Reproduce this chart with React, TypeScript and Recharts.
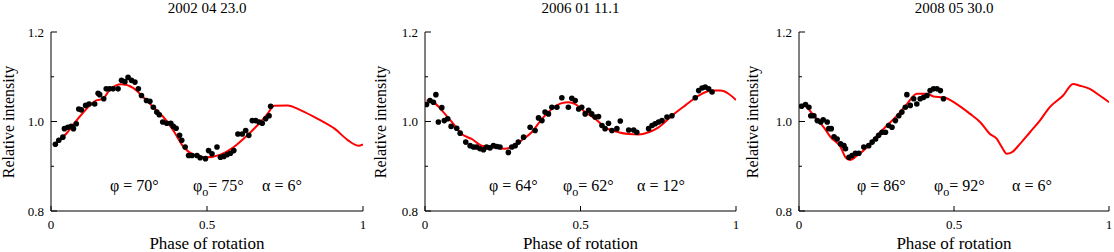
import { ComposedChart, Line, Scatter, XAxis, YAxis } from "recharts"

const FONT = "'Liberation Serif', 'Times New Roman', Times, 'DejaVu Serif', serif"

const xTicks = [0, 0.5, 1]
const yTicks = [0.8, 0.9, 1.0, 1.1, 1.2]
const yLabelled = [0.8, 1.0, 1.2]

const titles = ["2002 04 23.0", "2006 01 11.1", "2008 05 30.0"]
const phiValues = [70, 64, 86]
const phi0Values = [75, 62, 92]
const alphaValues = [6, 12, 6]

// observed points: [phase, relative intensity]
const obs2002: [number, number][] = [
  [0.014, 0.949], [0.025, 0.958], [0.038, 0.965], [0.043, 0.984], [0.054, 0.987],
  [0.065, 0.989], [0.072, 0.984], [0.081, 0.995], [0.089, 1.028], [0.097, 1.026],
  [0.111, 1.036], [0.122, 1.039], [0.14, 1.039], [0.151, 1.063], [0.156, 1.06],
  [0.169, 1.051], [0.177, 1.073], [0.188, 1.073], [0.199, 1.073], [0.215, 1.073],
  [0.226, 1.092], [0.237, 1.089], [0.247, 1.099], [0.258, 1.092], [0.269, 1.088],
  [0.28, 1.073], [0.29, 1.058], [0.306, 1.047], [0.317, 1.045], [0.328, 1.032],
  [0.339, 1.021], [0.347, 1.015], [0.358, 0.999], [0.371, 0.996], [0.384, 0.996],
  [0.392, 0.989], [0.401, 0.985], [0.412, 0.969], [0.419, 0.958], [0.43, 0.943],
  [0.441, 0.924], [0.452, 0.924], [0.468, 0.924], [0.478, 0.919], [0.495, 0.917],
  [0.505, 0.935], [0.516, 0.928], [0.532, 0.943], [0.543, 0.92], [0.554, 0.922],
  [0.565, 0.926], [0.575, 0.929], [0.586, 0.935], [0.599, 0.972], [0.613, 0.972],
  [0.624, 0.98], [0.634, 0.969], [0.645, 1.002], [0.656, 1.002], [0.667, 0.999],
  [0.677, 0.996], [0.688, 1.006], [0.699, 1.013], [0.704, 1.034],
]

const model2002: [number, number][] = [
  [0.011, 0.949], [0.048, 0.972], [0.091, 1.01], [0.145, 1.047], [0.167, 1.051],
  [0.188, 1.071], [0.226, 1.083], [0.263, 1.075], [0.296, 1.054], [0.328, 1.032],
  [0.36, 1.01], [0.392, 0.98], [0.425, 0.943], [0.457, 0.926], [0.5, 0.92],
  [0.543, 0.926], [0.586, 0.943], [0.629, 0.969], [0.661, 0.991], [0.694, 1.017],
  [0.715, 1.035], [0.758, 1.036], [0.801, 1.025], [0.855, 1.006], [0.909, 0.984],
  [0.952, 0.958], [0.985, 0.946], [1.0, 0.949],
]

const obs2006: [number, number][] = [
  [0.005, 1.038], [0.016, 1.047], [0.027, 1.043], [0.035, 1.06], [0.043, 0.999],
  [0.054, 1.031], [0.062, 1.002], [0.073, 1.006], [0.084, 0.989], [0.102, 0.985],
  [0.113, 0.974], [0.131, 0.954], [0.145, 0.946], [0.156, 0.943], [0.166, 0.943],
  [0.177, 0.939], [0.188, 0.937], [0.198, 0.943], [0.209, 0.941], [0.22, 0.946],
  [0.231, 0.944], [0.241, 0.943], [0.268, 0.931], [0.279, 0.943], [0.29, 0.946],
  [0.3, 0.954], [0.317, 0.965], [0.338, 0.987], [0.354, 0.98], [0.365, 1.008],
  [0.376, 1.002], [0.386, 1.021], [0.397, 1.017], [0.408, 1.032], [0.424, 1.032],
  [0.44, 1.053], [0.461, 1.032], [0.472, 1.052], [0.483, 1.047], [0.494, 1.028],
  [0.504, 1.032], [0.515, 1.017], [0.526, 1.025], [0.536, 1.017], [0.547, 1.01],
  [0.558, 1.011], [0.569, 0.991], [0.579, 0.984], [0.59, 0.996], [0.601, 0.98],
  [0.617, 0.984], [0.628, 1.001], [0.655, 0.981], [0.671, 0.981], [0.681, 0.976],
  [0.719, 0.984], [0.73, 0.991], [0.74, 0.995], [0.751, 0.999], [0.762, 1.002],
  [0.778, 1.01], [0.794, 1.013], [0.869, 1.053], [0.88, 1.069], [0.891, 1.075],
  [0.901, 1.077], [0.912, 1.073], [0.923, 1.066],
]

const model2006: [number, number][] = [
  [0.005, 1.047], [0.027, 1.043], [0.054, 1.025], [0.086, 0.999], [0.118, 0.972],
  [0.15, 0.961], [0.182, 0.946], [0.215, 0.943], [0.258, 0.939], [0.279, 0.943],
  [0.311, 0.958], [0.343, 0.976], [0.376, 1.006], [0.408, 1.028], [0.44, 1.041],
  [0.461, 1.043], [0.483, 1.039], [0.515, 1.021], [0.547, 1.006], [0.579, 0.987],
  [0.622, 0.976], [0.655, 0.972], [0.687, 0.971], [0.719, 0.976], [0.751, 0.987],
  [0.794, 1.013], [0.837, 1.036], [0.88, 1.058], [0.923, 1.069], [0.95, 1.069],
  [0.976, 1.062], [1.0, 1.048],
]

const obs2008: [number, number][] = [
  [0.008, 1.034], [0.021, 1.038], [0.032, 1.032], [0.038, 1.013], [0.048, 1.013],
  [0.059, 1.002], [0.07, 0.999], [0.078, 1.004], [0.091, 0.999], [0.096, 0.984],
  [0.104, 0.984], [0.113, 0.966], [0.123, 0.961], [0.134, 0.95], [0.145, 0.946],
  [0.15, 0.939], [0.161, 0.92], [0.171, 0.924], [0.182, 0.929], [0.193, 0.929],
  [0.209, 0.943], [0.225, 0.946], [0.236, 0.954], [0.247, 0.961], [0.257, 0.969],
  [0.268, 0.976], [0.279, 0.976], [0.289, 0.991], [0.3, 0.987], [0.311, 1.002],
  [0.322, 1.013], [0.332, 1.021], [0.343, 1.032], [0.348, 1.06], [0.359, 1.036],
  [0.37, 1.051], [0.38, 1.039], [0.391, 1.051], [0.402, 1.054], [0.413, 1.058],
  [0.423, 1.069], [0.434, 1.073], [0.445, 1.073], [0.456, 1.069], [0.466, 1.051],
]

const model2008: [number, number][] = [
  [0.008, 1.038], [0.021, 1.034], [0.048, 1.013], [0.08, 0.987], [0.102, 0.965],
  [0.134, 0.943], [0.15, 0.92], [0.164, 0.914], [0.188, 0.924], [0.22, 0.943],
  [0.252, 0.969], [0.284, 0.991], [0.316, 1.013], [0.348, 1.039], [0.38, 1.062],
  [0.413, 1.062], [0.434, 1.056], [0.466, 1.054], [0.509, 1.039], [0.552, 1.017],
  [0.584, 0.999], [0.616, 0.972], [0.638, 0.961], [0.654, 0.943], [0.67, 0.928],
  [0.686, 0.931], [0.713, 0.95], [0.745, 0.976], [0.777, 1.002], [0.809, 1.032],
  [0.852, 1.058], [0.884, 1.084], [0.906, 1.08], [0.938, 1.073], [0.97, 1.058],
  [1.0, 1.043],
]

const observed = [obs2002, obs2006, obs2008]
const models = [model2002, model2006, model2008]

// layout of each panel on the page
const panels = [
  { left: 0, width: 372, ml: 51, mr: 9, ann: [110, 193, 262] },
  { left: 372, width: 372, ml: 53, mr: 8, ann: [117, 191, 265] },
  { left: 744, width: 370, ml: 55, mr: 5, ann: [113, 190, 268] },
]

const HEIGHT = 252
const TOP = 32
const PLOT_H = 179
const Y_AXIS_W = 40
const X_AXIS_H = 20

const toPoints = (rows: [number, number][]) => rows.map(([phase, value]) => ({ phase, value }))

const isLabelled = (v: number) => yLabelled.some((t) => Math.abs(t - v) < 1e-9)

function LeftTick(props: any) {
  const { x, y, payload } = props
  const lab = isLabelled(payload.value)
  return (
    <g>
      <line x1={x} y1={y} x2={x + (lab ? 6 : 3)} y2={y} stroke="#000" />
      {lab && (
        <text x={x - 7} y={y} dy="0.35em" textAnchor="end" fontSize={13} fontFamily={FONT} fill="#000">
          {payload.value.toFixed(1)}
        </text>
      )}
    </g>
  )
}

function RightTick(props: any) {
  const { x, y, payload } = props
  const lab = isLabelled(payload.value)
  return <line x1={x} y1={y} x2={x - (lab ? 6 : 3)} y2={y} stroke="#000" />
}

function BottomTick(props: any) {
  const { x, y, payload } = props
  return (
    <g>
      <line x1={x} y1={y} x2={x} y2={y - 5} stroke="#000" />
      <text x={x} y={y + 13} dy="0.35em" textAnchor="middle" fontSize={13} fontFamily={FONT} fill="#000">
        {String(payload.value)}
      </text>
    </g>
  )
}

function TopTick(props: any) {
  const { x, y } = props
  return <line x1={x} y1={y} x2={x} y2={y + 5} stroke="#000" />
}

const Dot = (p: any) => <circle cx={p.cx} cy={p.cy} r={2.8} fill="#000" />

function Panel({ i }: { i: number }) {
  const p = panels[i]
  const plotW = p.width - p.ml - p.mr
  const annStyle: React.CSSProperties = {
    position: "absolute",
    top: 178,
    fontSize: 16,
    lineHeight: "16px",
    whiteSpace: "nowrap",
  }
  return (
    <div style={{ position: "absolute", left: p.left, top: 0, width: p.width, height: HEIGHT }}>
      <ComposedChart
        width={p.width}
        height={HEIGHT}
        margin={{ top: TOP, right: p.mr, bottom: HEIGHT - TOP - PLOT_H - X_AXIS_H, left: p.ml - Y_AXIS_W }}
      >
        <XAxis
          dataKey="phase"
          type="number"
          domain={[0, 1]}
          ticks={xTicks}
          interval={0}
          height={X_AXIS_H}
          tickLine={false}
          tickSize={0}
          tickMargin={0}
          axisLine={{ stroke: "#000" }}
          tick={BottomTick}
          allowDataOverflow
        />
        <XAxis
          xAxisId="top"
          orientation="top"
          type="number"
          domain={[0, 1]}
          ticks={xTicks}
          interval={0}
          height={0}
          tickLine={false}
          tickSize={0}
          tickMargin={0}
          axisLine={{ stroke: "#000" }}
          tick={TopTick}
          allowDataOverflow
        />
        <YAxis
          dataKey="value"
          type="number"
          domain={[0.8, 1.2]}
          ticks={yTicks}
          interval={0}
          width={Y_AXIS_W}
          tickLine={false}
          tickSize={0}
          tickMargin={0}
          axisLine={{ stroke: "#000" }}
          tick={LeftTick}
          allowDataOverflow
        />
        <YAxis
          yAxisId="right"
          orientation="right"
          type="number"
          domain={[0.8, 1.2]}
          ticks={yTicks}
          interval={0}
          width={0}
          tickLine={false}
          tickSize={0}
          tickMargin={0}
          axisLine={{ stroke: "#000" }}
          tick={RightTick}
          allowDataOverflow
        />
        <Scatter data={toPoints(observed[i])} shape={Dot} isAnimationActive={false} />
        <Line
          data={toPoints(models[i])}
          dataKey="value"
          type="monotone"
          stroke="#ff0000"
          strokeWidth={2}
          dot={false}
          isAnimationActive={false}
        />
      </ComposedChart>

      <div
        style={{
          position: "absolute",
          left: p.ml,
          width: plotW,
          top: 0,
          fontSize: 15,
          lineHeight: "16px",
          textAlign: "center",
        }}
      >
        {titles[i]}
      </div>
      <div
        style={{
          position: "absolute",
          left: p.ml,
          width: plotW,
          top: 234,
          fontSize: 17,
          lineHeight: "20px",
          textAlign: "center",
          whiteSpace: "nowrap",
        }}
      >
        Phase of rotation
      </div>
      <div
        style={{
          position: "absolute",
          left: 9,
          top: TOP + PLOT_H / 2,
          fontSize: 16,
          lineHeight: "16px",
          whiteSpace: "nowrap",
          transform: "translate(-50%, -50%) rotate(-90deg)",
        }}
      >
        Relative intensity
      </div>

      <span style={{ ...annStyle, left: p.ann[0] }}>φ = {phiValues[i]}°</span>
      <span style={{ ...annStyle, left: p.ann[1] }}>
        φ<span style={{ fontSize: 12, position: "relative", top: 5 }}>o</span>= {phi0Values[i]}°
      </span>
      <span style={{ ...annStyle, left: p.ann[2] }}>α = {alphaValues[i]}°</span>
    </div>
  )
}

export default function App() {
  return (
    <div
      style={{
        position: "absolute",
        left: 0,
        top: 0,
        width: 1114,
        height: HEIGHT,
        overflow: "hidden",
        background: "#fff",
        fontFamily: FONT,
        color: "#000",
      }}
    >
      {[0, 1, 2].map((i) => (
        <Panel key={i} i={i} />
      ))}
    </div>
  )
}
